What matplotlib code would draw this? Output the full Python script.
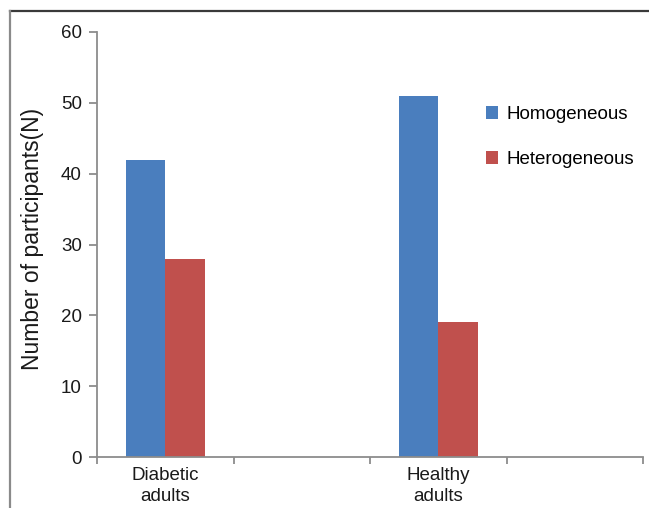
import numpy as np
import matplotlib.pyplot as plt
from matplotlib.lines import Line2D

plt.rcParams["font.family"] = ["Liberation Sans", "DejaVu Sans"]

# data
categories = ["Diabetic\nadults", "", "Healthy\nadults", ""]
homogeneous = [42, np.nan, 51, np.nan]
heterogeneous = [28, np.nan, 19, np.nan]
series_names = ["Homogeneous", "Heterogeneous"]
series_colors = ["#4A7EBE", "#C0504D"]
y_ticks = [0, 10, 20, 30, 40, 50, 60]

fig = plt.figure(figsize=(6.49, 5.08), dpi=100)
ax = fig.add_axes([97 / 649, 1 - 457 / 508, 546 / 649, 425 / 508])

x = np.arange(len(categories))
width = 0.29
ax.bar(x - width / 2, homogeneous, width, color=series_colors[0], label=series_names[0])
ax.bar(x + width / 2, heterogeneous, width, color=series_colors[1], label=series_names[1])

ax.set_xlim(-0.5, len(categories) - 0.5)
ax.set_ylim(0, 60)
ax.set_yticks(y_ticks)
ax.set_xticks(x)
ax.set_xticklabels(categories, linespacing=1.3)
ax.set_xticks(np.arange(len(categories) + 1) - 0.5, minor=True)

grey = "#8C8C8C"
for side in ("top", "right"):
    ax.spines[side].set_visible(False)
for side in ("left", "bottom"):
    ax.spines[side].set_color(grey)
    ax.spines[side].set_linewidth(1.3)

ax.tick_params(axis="x", which="major", length=0, pad=7, labelsize=13.5, labelcolor="#1a1a1a")
ax.tick_params(axis="x", which="minor", length=5, width=1.3, color=grey, direction="out")
ax.tick_params(axis="y", length=6, width=1.3, color=grey, pad=5, labelsize=13.5, labelcolor="#1a1a1a")

ax.set_ylabel("Number of participants(N)", fontsize=16.5, color="#1a1a1a")
ax.yaxis.set_label_coords(-0.097, 0.513)

ax.legend(
    loc="upper left",
    bbox_to_anchor=(486 / 649, 1 - 106 / 508),
    bbox_transform=fig.transFigure,
    frameon=False,
    fontsize=13.5,
    handlelength=0.65,
    handleheight=0.65,
    handletextpad=0.45,
    labelspacing=1.5,
    borderpad=0,
    borderaxespad=0,
)

# outer frame (top and left edges only visible in the crop)
fig.add_artist(Line2D([9.5 / 649, 1], [1 - 10.5 / 508] * 2, transform=fig.transFigure,
                      color="#3a3a3a", linewidth=1.6))
fig.add_artist(Line2D([9.5 / 649] * 2, [0, 1 - 10.5 / 508], transform=fig.transFigure,
                      color="#8a8a8a", linewidth=1.6))

fig.savefig("out.png", dpi=100)
